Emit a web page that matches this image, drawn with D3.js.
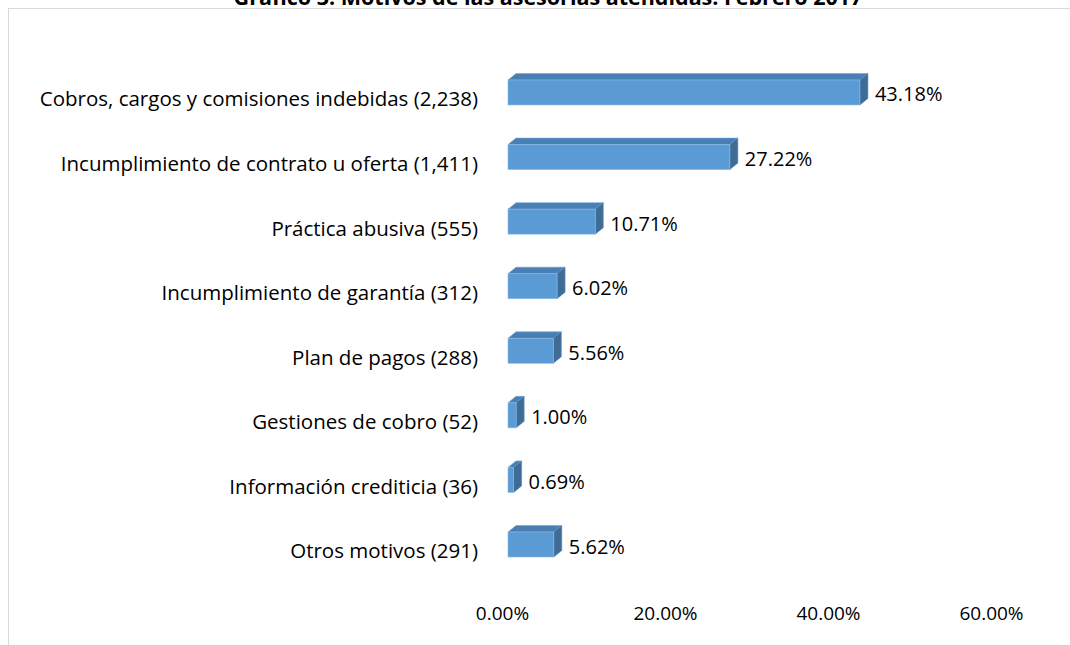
<!DOCTYPE html>
<html>
<head>
<meta charset="utf-8">
<script src="https://cdn.jsdelivr.net/npm/d3@7"></script>
<style>
  body { margin: 0; background: #fff; }
  svg text { font-family: "Open Sans", "Noto Sans", sans-serif; fill: #000; font-variant-ligatures: none; }
</style>
</head>
<body>
<div id="chart"></div>
<script>
/**
 * DATA
 * */
const title = "Gráfico 3. Motivos de las asesorías atendidas. Febrero 2017";
const motivos = [
  "Cobros, cargos y comisiones indebidas",
  "Incumplimiento de contrato u oferta",
  "Práctica abusiva",
  "Incumplimiento de garantía",
  "Plan de pagos",
  "Gestiones de cobro",
  "Información crediticia",
  "Otros motivos"
];
const casos = [2238, 1411, 555, 312, 288, 52, 36, 291];
const porcentajes = [0.4318, 0.2722, 0.1071, 0.0602, 0.0556, 0.0100, 0.0069, 0.0562];
const xTicks = [0, 0.2, 0.4, 0.6];

/**
 * CONSTANTS
 * */
const width = 1070,
  height = 645,
  depth = { x: 8, y: 6.5 }; // 3d offset of the bars

const data = motivos.map((m, i) => ({
  label: `${m} (${d3.format(",")(casos[i])})`,
  value: porcentajes[i]
}));

const svg = d3.select("#chart")
  .append("svg")
  .attr("width", width)
  .attr("height", height);

// chart area border
svg.append("rect")
  .attr("x", 8.5)
  .attr("y", 8.5)
  .attr("width", width)
  .attr("height", height)
  .attr("fill", "none")
  .attr("stroke", "#d9d9d9");

// title (clipped at top like the original)
svg.append("text")
  .attr("x", 548)
  .attr("y", 5)
  .attr("text-anchor", "middle")
  .attr("font-weight", "bold")
  .attr("font-size", 21.5)
  .text(title);

// SCALES
const xScale = d3.scaleLinear()
  .domain([0, 0.6])
  .range([508, 997]);

const yScale = d3.scaleBand()
  .domain(data.map(d => d.label))
  .range([80, 557])
  .paddingInner(0.613)
  .paddingOuter(0);

const bh = yScale.bandwidth();

// AXES
const xAxis = d3.axisBottom(xScale)
  .tickValues(xTicks)
  .tickSize(0)
  .tickFormat(d3.format(".2%"));

svg.append("g")
  .attr("class", "x-axis")
  .attr("transform", `translate(-6,603)`)
  .call(xAxis)
  .call(g => g.select(".domain").remove())
  .selectAll("text")
  .attr("font-size", 19)
  .attr("font-family", "'Open Sans', sans-serif")
  .attr("fill", "#000");

const yAxis = d3.axisLeft(yScale).tickSize(0).tickPadding(0);

svg.append("g")
  .attr("class", "y-axis")
  .attr("transform", `translate(478,0)`)
  .call(yAxis)
  .call(g => g.select(".domain").remove())
  .selectAll("text")
  .attr("font-size", 20.5)
  .attr("font-family", "'Open Sans', sans-serif")
  .attr("fill", "#000")
  .attr("dy", "0.68em");

// BARS (front, top and side faces)
const bars = svg.selectAll(".bar")
  .data(data)
  .join("g")
  .attr("class", "bar");

bars.append("polygon")
  .attr("class", "top")
  .attr("fill", "#4a7fb3")
  .attr("stroke", "#6fa6d8")
  .attr("stroke-width", 0.6)
  .attr("points", d => {
    const x0 = xScale(0), x1 = xScale(d.value), y = yScale(d.label);
    return [[x0, y], [x0 + depth.x, y - depth.y], [x1 + depth.x, y - depth.y], [x1, y]].join(" ");
  });

bars.append("polygon")
  .attr("class", "side")
  .attr("fill", "#3e6c96")
  .attr("stroke", "#5a8cba")
  .attr("stroke-width", 0.6)
  .attr("points", d => {
    const x1 = xScale(d.value), y = yScale(d.label);
    return [[x1, y], [x1 + depth.x, y - depth.y], [x1 + depth.x, y + bh - depth.y], [x1, y + bh]].join(" ");
  });

bars.append("rect")
  .attr("class", "front")
  .attr("x", xScale(0))
  .attr("y", d => yScale(d.label))
  .attr("width", d => xScale(d.value) - xScale(0))
  .attr("height", bh)
  .attr("fill", "#5b9bd5")
  .attr("stroke", "#8dbbe5")
  .attr("stroke-width", 0.6);

// value labels
bars.append("text")
  .attr("x", d => xScale(d.value) + depth.x + 7)
  .attr("y", d => yScale(d.label) + bh / 2 + 2)
  .attr("dy", "0.35em")
  .attr("font-size", 20)
  .text(d => d3.format(".2%")(d.value));
</script>
</body>
</html>
